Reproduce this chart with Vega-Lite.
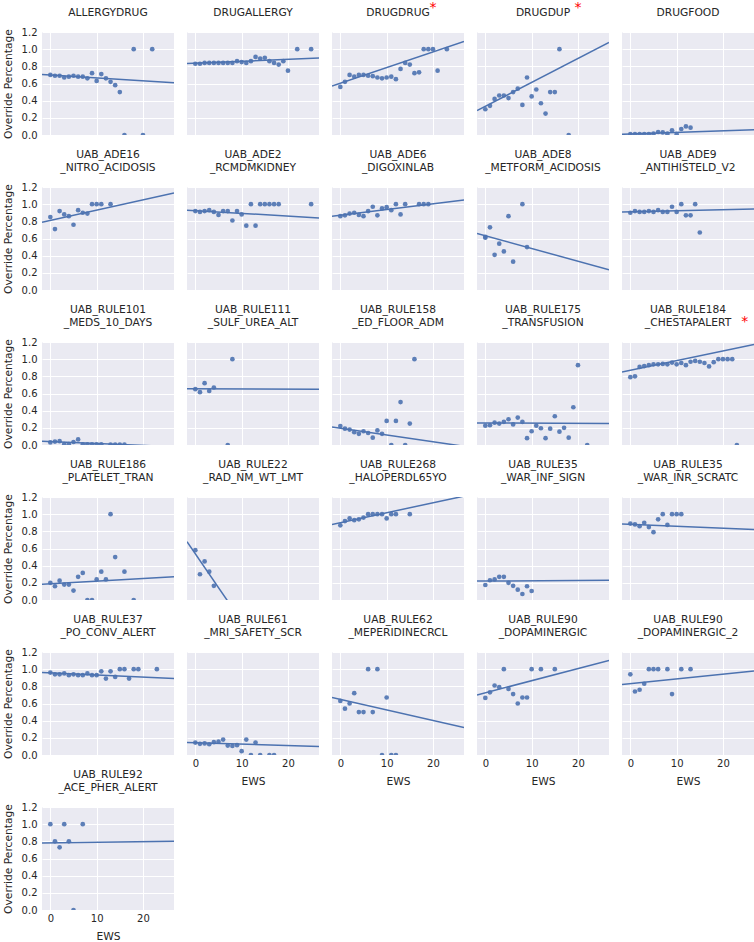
{
  "$schema": "https://vega.github.io/schema/vega-lite/v6.json",
  "padding": {"left": 2, "top": -1, "right": 0, "bottom": 0},
  "data": {"values": [
    {"panel":"ALLERGYDRUG","kind":"pt","ews":0,"pct":0.70},{"panel":"ALLERGYDRUG","kind":"pt","ews":1,"pct":0.69},{"panel":"ALLERGYDRUG","kind":"pt","ews":2,"pct":0.69},{"panel":"ALLERGYDRUG","kind":"pt","ews":3,"pct":0.67},{"panel":"ALLERGYDRUG","kind":"pt","ews":4,"pct":0.68},{"panel":"ALLERGYDRUG","kind":"pt","ews":5,"pct":0.69},{"panel":"ALLERGYDRUG","kind":"pt","ews":6,"pct":0.68},{"panel":"ALLERGYDRUG","kind":"pt","ews":7,"pct":0.68},{"panel":"ALLERGYDRUG","kind":"pt","ews":8,"pct":0.66},{"panel":"ALLERGYDRUG","kind":"pt","ews":9,"pct":0.72},{"panel":"ALLERGYDRUG","kind":"pt","ews":10,"pct":0.63},{"panel":"ALLERGYDRUG","kind":"pt","ews":11,"pct":0.71},{"panel":"ALLERGYDRUG","kind":"pt","ews":12,"pct":0.66},{"panel":"ALLERGYDRUG","kind":"pt","ews":13,"pct":0.62},{"panel":"ALLERGYDRUG","kind":"pt","ews":14,"pct":0.58},{"panel":"ALLERGYDRUG","kind":"pt","ews":15,"pct":0.50},{"panel":"ALLERGYDRUG","kind":"pt","ews":16,"pct":0},{"panel":"ALLERGYDRUG","kind":"pt","ews":18,"pct":1},{"panel":"ALLERGYDRUG","kind":"pt","ews":20,"pct":0},{"panel":"ALLERGYDRUG","kind":"pt","ews":22,"pct":1},
    {"panel":"ALLERGYDRUG","kind":"fit","ews":-1.8,"pct":0.705},{"panel":"ALLERGYDRUG","kind":"fit","ews":26.7,"pct":0.61},

    {"panel":"DRUGALLERGY","kind":"pt","ews":0,"pct":0.83},{"panel":"DRUGALLERGY","kind":"pt","ews":1,"pct":0.83},{"panel":"DRUGALLERGY","kind":"pt","ews":2,"pct":0.84},{"panel":"DRUGALLERGY","kind":"pt","ews":3,"pct":0.84},{"panel":"DRUGALLERGY","kind":"pt","ews":4,"pct":0.84},{"panel":"DRUGALLERGY","kind":"pt","ews":5,"pct":0.84},{"panel":"DRUGALLERGY","kind":"pt","ews":6,"pct":0.84},{"panel":"DRUGALLERGY","kind":"pt","ews":7,"pct":0.84},{"panel":"DRUGALLERGY","kind":"pt","ews":8,"pct":0.84},{"panel":"DRUGALLERGY","kind":"pt","ews":9,"pct":0.86},{"panel":"DRUGALLERGY","kind":"pt","ews":10,"pct":0.85},{"panel":"DRUGALLERGY","kind":"pt","ews":11,"pct":0.84},{"panel":"DRUGALLERGY","kind":"pt","ews":12,"pct":0.86},{"panel":"DRUGALLERGY","kind":"pt","ews":13,"pct":0.91},{"panel":"DRUGALLERGY","kind":"pt","ews":14,"pct":0.89},{"panel":"DRUGALLERGY","kind":"pt","ews":15,"pct":0.90},{"panel":"DRUGALLERGY","kind":"pt","ews":16,"pct":0.86},{"panel":"DRUGALLERGY","kind":"pt","ews":17,"pct":0.84},{"panel":"DRUGALLERGY","kind":"pt","ews":18,"pct":0.82},{"panel":"DRUGALLERGY","kind":"pt","ews":19,"pct":0.86},{"panel":"DRUGALLERGY","kind":"pt","ews":20,"pct":0.75},{"panel":"DRUGALLERGY","kind":"pt","ews":22,"pct":1},{"panel":"DRUGALLERGY","kind":"pt","ews":25,"pct":1},
    {"panel":"DRUGALLERGY","kind":"fit","ews":-1.8,"pct":0.834},{"panel":"DRUGALLERGY","kind":"fit","ews":26.7,"pct":0.896},

    {"panel":"DRUGDRUG","kind":"pt","ews":0,"pct":0.56},{"panel":"DRUGDRUG","kind":"pt","ews":1,"pct":0.62},{"panel":"DRUGDRUG","kind":"pt","ews":2,"pct":0.70},{"panel":"DRUGDRUG","kind":"pt","ews":3,"pct":0.68},{"panel":"DRUGDRUG","kind":"pt","ews":4,"pct":0.70},{"panel":"DRUGDRUG","kind":"pt","ews":5,"pct":0.70},{"panel":"DRUGDRUG","kind":"pt","ews":6,"pct":0.69},{"panel":"DRUGDRUG","kind":"pt","ews":7,"pct":0.685},{"panel":"DRUGDRUG","kind":"pt","ews":8,"pct":0.67},{"panel":"DRUGDRUG","kind":"pt","ews":9,"pct":0.66},{"panel":"DRUGDRUG","kind":"pt","ews":10,"pct":0.67},{"panel":"DRUGDRUG","kind":"pt","ews":11,"pct":0.68},{"panel":"DRUGDRUG","kind":"pt","ews":12,"pct":0.65},{"panel":"DRUGDRUG","kind":"pt","ews":13,"pct":0.77},{"panel":"DRUGDRUG","kind":"pt","ews":14,"pct":0.84},{"panel":"DRUGDRUG","kind":"pt","ews":15,"pct":0.82},{"panel":"DRUGDRUG","kind":"pt","ews":16,"pct":0.72},{"panel":"DRUGDRUG","kind":"pt","ews":17,"pct":0.73},{"panel":"DRUGDRUG","kind":"pt","ews":18,"pct":1},{"panel":"DRUGDRUG","kind":"pt","ews":19,"pct":1},{"panel":"DRUGDRUG","kind":"pt","ews":20,"pct":1},{"panel":"DRUGDRUG","kind":"pt","ews":21,"pct":0.75},{"panel":"DRUGDRUG","kind":"pt","ews":23,"pct":1},
    {"panel":"DRUGDRUG","kind":"fit","ews":-1.8,"pct":0.57},{"panel":"DRUGDRUG","kind":"fit","ews":26.7,"pct":1.09},
    {"panel":"DRUGDRUG","kind":"star"},

    {"panel":"DRUGDUP","kind":"pt","ews":0,"pct":0.30},{"panel":"DRUGDUP","kind":"pt","ews":1,"pct":0.34},{"panel":"DRUGDUP","kind":"pt","ews":2,"pct":0.42},{"panel":"DRUGDUP","kind":"pt","ews":3,"pct":0.46},{"panel":"DRUGDUP","kind":"pt","ews":4,"pct":0.46},{"panel":"DRUGDUP","kind":"pt","ews":5,"pct":0.43},{"panel":"DRUGDUP","kind":"pt","ews":6,"pct":0.50},{"panel":"DRUGDUP","kind":"pt","ews":7,"pct":0.54},{"panel":"DRUGDUP","kind":"pt","ews":8,"pct":0.35},{"panel":"DRUGDUP","kind":"pt","ews":9,"pct":0.67},{"panel":"DRUGDUP","kind":"pt","ews":10,"pct":0.45},{"panel":"DRUGDUP","kind":"pt","ews":11,"pct":0.53},{"panel":"DRUGDUP","kind":"pt","ews":12,"pct":0.37},{"panel":"DRUGDUP","kind":"pt","ews":13,"pct":0.25},{"panel":"DRUGDUP","kind":"pt","ews":14,"pct":0.50},{"panel":"DRUGDUP","kind":"pt","ews":15,"pct":0.50},{"panel":"DRUGDUP","kind":"pt","ews":16,"pct":1},{"panel":"DRUGDUP","kind":"pt","ews":18,"pct":0},
    {"panel":"DRUGDUP","kind":"fit","ews":-1.8,"pct":0.284},{"panel":"DRUGDUP","kind":"fit","ews":26.7,"pct":1.08},
    {"panel":"DRUGDUP","kind":"star"},

    {"panel":"DRUGFOOD","kind":"pt","ews":0,"pct":0.01},{"panel":"DRUGFOOD","kind":"pt","ews":1,"pct":0.01},{"panel":"DRUGFOOD","kind":"pt","ews":2,"pct":0.01},{"panel":"DRUGFOOD","kind":"pt","ews":3,"pct":0.01},{"panel":"DRUGFOOD","kind":"pt","ews":4,"pct":0.01},{"panel":"DRUGFOOD","kind":"pt","ews":5,"pct":0.015},{"panel":"DRUGFOOD","kind":"pt","ews":6,"pct":0.035},{"panel":"DRUGFOOD","kind":"pt","ews":7,"pct":0.03},{"panel":"DRUGFOOD","kind":"pt","ews":8,"pct":0.015},{"panel":"DRUGFOOD","kind":"pt","ews":9,"pct":0.055},{"panel":"DRUGFOOD","kind":"pt","ews":10,"pct":0.01},{"panel":"DRUGFOOD","kind":"pt","ews":11,"pct":0.07},{"panel":"DRUGFOOD","kind":"pt","ews":12,"pct":0.10},{"panel":"DRUGFOOD","kind":"pt","ews":13,"pct":0.085},
    {"panel":"DRUGFOOD","kind":"fit","ews":-1.8,"pct":0.008},{"panel":"DRUGFOOD","kind":"fit","ews":26.7,"pct":0.062},

    {"panel":"UAB_ADE16_NITRO_ACIDOSIS","kind":"pt","ews":0,"pct":0.85},{"panel":"UAB_ADE16_NITRO_ACIDOSIS","kind":"pt","ews":1,"pct":0.71},{"panel":"UAB_ADE16_NITRO_ACIDOSIS","kind":"pt","ews":2,"pct":0.92},{"panel":"UAB_ADE16_NITRO_ACIDOSIS","kind":"pt","ews":3,"pct":0.88},{"panel":"UAB_ADE16_NITRO_ACIDOSIS","kind":"pt","ews":4,"pct":0.86},{"panel":"UAB_ADE16_NITRO_ACIDOSIS","kind":"pt","ews":5,"pct":0.76},{"panel":"UAB_ADE16_NITRO_ACIDOSIS","kind":"pt","ews":6,"pct":0.93},{"panel":"UAB_ADE16_NITRO_ACIDOSIS","kind":"pt","ews":7,"pct":0.90},{"panel":"UAB_ADE16_NITRO_ACIDOSIS","kind":"pt","ews":8,"pct":0.89},{"panel":"UAB_ADE16_NITRO_ACIDOSIS","kind":"pt","ews":9,"pct":1},{"panel":"UAB_ADE16_NITRO_ACIDOSIS","kind":"pt","ews":10,"pct":1},{"panel":"UAB_ADE16_NITRO_ACIDOSIS","kind":"pt","ews":11,"pct":1},{"panel":"UAB_ADE16_NITRO_ACIDOSIS","kind":"pt","ews":13,"pct":1},
    {"panel":"UAB_ADE16_NITRO_ACIDOSIS","kind":"fit","ews":-1.8,"pct":0.79},{"panel":"UAB_ADE16_NITRO_ACIDOSIS","kind":"fit","ews":26.7,"pct":1.13},

    {"panel":"UAB_ADE2_RCMDMKIDNEY","kind":"pt","ews":0,"pct":0.92},{"panel":"UAB_ADE2_RCMDMKIDNEY","kind":"pt","ews":1,"pct":0.91},{"panel":"UAB_ADE2_RCMDMKIDNEY","kind":"pt","ews":2,"pct":0.92},{"panel":"UAB_ADE2_RCMDMKIDNEY","kind":"pt","ews":3,"pct":0.93},{"panel":"UAB_ADE2_RCMDMKIDNEY","kind":"pt","ews":4,"pct":0.91},{"panel":"UAB_ADE2_RCMDMKIDNEY","kind":"pt","ews":5,"pct":0.875},{"panel":"UAB_ADE2_RCMDMKIDNEY","kind":"pt","ews":6,"pct":0.92},{"panel":"UAB_ADE2_RCMDMKIDNEY","kind":"pt","ews":7,"pct":0.92},{"panel":"UAB_ADE2_RCMDMKIDNEY","kind":"pt","ews":8,"pct":0.81},{"panel":"UAB_ADE2_RCMDMKIDNEY","kind":"pt","ews":9,"pct":0.92},{"panel":"UAB_ADE2_RCMDMKIDNEY","kind":"pt","ews":10,"pct":0.88},{"panel":"UAB_ADE2_RCMDMKIDNEY","kind":"pt","ews":11,"pct":0.75},{"panel":"UAB_ADE2_RCMDMKIDNEY","kind":"pt","ews":12,"pct":1},{"panel":"UAB_ADE2_RCMDMKIDNEY","kind":"pt","ews":13,"pct":0.75},{"panel":"UAB_ADE2_RCMDMKIDNEY","kind":"pt","ews":14,"pct":1},{"panel":"UAB_ADE2_RCMDMKIDNEY","kind":"pt","ews":15,"pct":1},{"panel":"UAB_ADE2_RCMDMKIDNEY","kind":"pt","ews":16,"pct":1},{"panel":"UAB_ADE2_RCMDMKIDNEY","kind":"pt","ews":17,"pct":1},{"panel":"UAB_ADE2_RCMDMKIDNEY","kind":"pt","ews":18,"pct":1},{"panel":"UAB_ADE2_RCMDMKIDNEY","kind":"pt","ews":25,"pct":1},
    {"panel":"UAB_ADE2_RCMDMKIDNEY","kind":"fit","ews":-1.8,"pct":0.93},{"panel":"UAB_ADE2_RCMDMKIDNEY","kind":"fit","ews":26.7,"pct":0.84},

    {"panel":"UAB_ADE6_DIGOXINLAB","kind":"pt","ews":0,"pct":0.86},{"panel":"UAB_ADE6_DIGOXINLAB","kind":"pt","ews":1,"pct":0.87},{"panel":"UAB_ADE6_DIGOXINLAB","kind":"pt","ews":2,"pct":0.89},{"panel":"UAB_ADE6_DIGOXINLAB","kind":"pt","ews":3,"pct":0.90},{"panel":"UAB_ADE6_DIGOXINLAB","kind":"pt","ews":4,"pct":0.875},{"panel":"UAB_ADE6_DIGOXINLAB","kind":"pt","ews":5,"pct":0.86},{"panel":"UAB_ADE6_DIGOXINLAB","kind":"pt","ews":6,"pct":0.92},{"panel":"UAB_ADE6_DIGOXINLAB","kind":"pt","ews":7,"pct":0.97},{"panel":"UAB_ADE6_DIGOXINLAB","kind":"pt","ews":8,"pct":0.87},{"panel":"UAB_ADE6_DIGOXINLAB","kind":"pt","ews":9,"pct":0.95},{"panel":"UAB_ADE6_DIGOXINLAB","kind":"pt","ews":10,"pct":0.965},{"panel":"UAB_ADE6_DIGOXINLAB","kind":"pt","ews":11,"pct":0.93},{"panel":"UAB_ADE6_DIGOXINLAB","kind":"pt","ews":12,"pct":1},{"panel":"UAB_ADE6_DIGOXINLAB","kind":"pt","ews":13,"pct":0.88},{"panel":"UAB_ADE6_DIGOXINLAB","kind":"pt","ews":14,"pct":1},{"panel":"UAB_ADE6_DIGOXINLAB","kind":"pt","ews":17,"pct":1},{"panel":"UAB_ADE6_DIGOXINLAB","kind":"pt","ews":18,"pct":1},{"panel":"UAB_ADE6_DIGOXINLAB","kind":"pt","ews":19,"pct":1},
    {"panel":"UAB_ADE6_DIGOXINLAB","kind":"fit","ews":-1.8,"pct":0.86},{"panel":"UAB_ADE6_DIGOXINLAB","kind":"fit","ews":26.7,"pct":1.05},

    {"panel":"UAB_ADE8_METFORM_ACIDOSIS","kind":"pt","ews":0,"pct":0.61},{"panel":"UAB_ADE8_METFORM_ACIDOSIS","kind":"pt","ews":0,"pct":0.62},{"panel":"UAB_ADE8_METFORM_ACIDOSIS","kind":"pt","ews":1,"pct":0.73},{"panel":"UAB_ADE8_METFORM_ACIDOSIS","kind":"pt","ews":2,"pct":0.41},{"panel":"UAB_ADE8_METFORM_ACIDOSIS","kind":"pt","ews":3,"pct":0.54},{"panel":"UAB_ADE8_METFORM_ACIDOSIS","kind":"pt","ews":4,"pct":0.45},{"panel":"UAB_ADE8_METFORM_ACIDOSIS","kind":"pt","ews":5,"pct":0.86},{"panel":"UAB_ADE8_METFORM_ACIDOSIS","kind":"pt","ews":6,"pct":0.33},{"panel":"UAB_ADE8_METFORM_ACIDOSIS","kind":"pt","ews":8,"pct":1},{"panel":"UAB_ADE8_METFORM_ACIDOSIS","kind":"pt","ews":9,"pct":0.50},
    {"panel":"UAB_ADE8_METFORM_ACIDOSIS","kind":"fit","ews":-1.8,"pct":0.66},{"panel":"UAB_ADE8_METFORM_ACIDOSIS","kind":"fit","ews":26.7,"pct":0.235},

    {"panel":"UAB_ADE9_ANTIHISTELD_V2","kind":"pt","ews":0,"pct":0.90},{"panel":"UAB_ADE9_ANTIHISTELD_V2","kind":"pt","ews":1,"pct":0.92},{"panel":"UAB_ADE9_ANTIHISTELD_V2","kind":"pt","ews":2,"pct":0.91},{"panel":"UAB_ADE9_ANTIHISTELD_V2","kind":"pt","ews":3,"pct":0.91},{"panel":"UAB_ADE9_ANTIHISTELD_V2","kind":"pt","ews":4,"pct":0.92},{"panel":"UAB_ADE9_ANTIHISTELD_V2","kind":"pt","ews":5,"pct":0.91},{"panel":"UAB_ADE9_ANTIHISTELD_V2","kind":"pt","ews":6,"pct":0.93},{"panel":"UAB_ADE9_ANTIHISTELD_V2","kind":"pt","ews":7,"pct":0.91},{"panel":"UAB_ADE9_ANTIHISTELD_V2","kind":"pt","ews":8,"pct":0.91},{"panel":"UAB_ADE9_ANTIHISTELD_V2","kind":"pt","ews":9,"pct":0.97},{"panel":"UAB_ADE9_ANTIHISTELD_V2","kind":"pt","ews":10,"pct":0.91},{"panel":"UAB_ADE9_ANTIHISTELD_V2","kind":"pt","ews":11,"pct":1},{"panel":"UAB_ADE9_ANTIHISTELD_V2","kind":"pt","ews":12,"pct":0.87},{"panel":"UAB_ADE9_ANTIHISTELD_V2","kind":"pt","ews":13,"pct":0.87},{"panel":"UAB_ADE9_ANTIHISTELD_V2","kind":"pt","ews":14,"pct":1},{"panel":"UAB_ADE9_ANTIHISTELD_V2","kind":"pt","ews":15,"pct":0.67},
    {"panel":"UAB_ADE9_ANTIHISTELD_V2","kind":"fit","ews":-1.8,"pct":0.91},{"panel":"UAB_ADE9_ANTIHISTELD_V2","kind":"fit","ews":26.7,"pct":0.945},

    {"panel":"UAB_RULE101_MEDS_10_DAYS","kind":"pt","ews":0,"pct":0.03},{"panel":"UAB_RULE101_MEDS_10_DAYS","kind":"pt","ews":1,"pct":0.04},{"panel":"UAB_RULE101_MEDS_10_DAYS","kind":"pt","ews":2,"pct":0.045},{"panel":"UAB_RULE101_MEDS_10_DAYS","kind":"pt","ews":3,"pct":0.01},{"panel":"UAB_RULE101_MEDS_10_DAYS","kind":"pt","ews":4,"pct":0.01},{"panel":"UAB_RULE101_MEDS_10_DAYS","kind":"pt","ews":5,"pct":0.035},{"panel":"UAB_RULE101_MEDS_10_DAYS","kind":"pt","ews":6,"pct":0.065},{"panel":"UAB_RULE101_MEDS_10_DAYS","kind":"pt","ews":7,"pct":0.008},{"panel":"UAB_RULE101_MEDS_10_DAYS","kind":"pt","ews":8,"pct":0.008},{"panel":"UAB_RULE101_MEDS_10_DAYS","kind":"pt","ews":9,"pct":0.008},{"panel":"UAB_RULE101_MEDS_10_DAYS","kind":"pt","ews":10,"pct":0.008},{"panel":"UAB_RULE101_MEDS_10_DAYS","kind":"pt","ews":11,"pct":0.008},{"panel":"UAB_RULE101_MEDS_10_DAYS","kind":"pt","ews":13,"pct":0.004},{"panel":"UAB_RULE101_MEDS_10_DAYS","kind":"pt","ews":14,"pct":0.004},{"panel":"UAB_RULE101_MEDS_10_DAYS","kind":"pt","ews":15,"pct":0.004},{"panel":"UAB_RULE101_MEDS_10_DAYS","kind":"pt","ews":16,"pct":0.004},
    {"panel":"UAB_RULE101_MEDS_10_DAYS","kind":"fit","ews":-1.8,"pct":0.045},{"panel":"UAB_RULE101_MEDS_10_DAYS","kind":"fit","ews":26.7,"pct":-0.02},

    {"panel":"UAB_RULE111_SULF_UREA_ALT","kind":"pt","ews":0,"pct":0.65},{"panel":"UAB_RULE111_SULF_UREA_ALT","kind":"pt","ews":1,"pct":0.615},{"panel":"UAB_RULE111_SULF_UREA_ALT","kind":"pt","ews":2,"pct":0.72},{"panel":"UAB_RULE111_SULF_UREA_ALT","kind":"pt","ews":3,"pct":0.63},{"panel":"UAB_RULE111_SULF_UREA_ALT","kind":"pt","ews":4,"pct":0.67},{"panel":"UAB_RULE111_SULF_UREA_ALT","kind":"pt","ews":7,"pct":0},{"panel":"UAB_RULE111_SULF_UREA_ALT","kind":"pt","ews":8,"pct":1},
    {"panel":"UAB_RULE111_SULF_UREA_ALT","kind":"fit","ews":-1.8,"pct":0.655},{"panel":"UAB_RULE111_SULF_UREA_ALT","kind":"fit","ews":26.7,"pct":0.65},

    {"panel":"UAB_RULE158_ED_FLOOR_ADM","kind":"pt","ews":0,"pct":0.22},{"panel":"UAB_RULE158_ED_FLOOR_ADM","kind":"pt","ews":1,"pct":0.19},{"panel":"UAB_RULE158_ED_FLOOR_ADM","kind":"pt","ews":2,"pct":0.18},{"panel":"UAB_RULE158_ED_FLOOR_ADM","kind":"pt","ews":3,"pct":0.15},{"panel":"UAB_RULE158_ED_FLOOR_ADM","kind":"pt","ews":4,"pct":0.13},{"panel":"UAB_RULE158_ED_FLOOR_ADM","kind":"pt","ews":5,"pct":0.16},{"panel":"UAB_RULE158_ED_FLOOR_ADM","kind":"pt","ews":6,"pct":0.14},{"panel":"UAB_RULE158_ED_FLOOR_ADM","kind":"pt","ews":7,"pct":0.085},{"panel":"UAB_RULE158_ED_FLOOR_ADM","kind":"pt","ews":8,"pct":0.17},{"panel":"UAB_RULE158_ED_FLOOR_ADM","kind":"pt","ews":9,"pct":0.13},{"panel":"UAB_RULE158_ED_FLOOR_ADM","kind":"pt","ews":10,"pct":0.28},{"panel":"UAB_RULE158_ED_FLOOR_ADM","kind":"pt","ews":11,"pct":0},{"panel":"UAB_RULE158_ED_FLOOR_ADM","kind":"pt","ews":12,"pct":0.28},{"panel":"UAB_RULE158_ED_FLOOR_ADM","kind":"pt","ews":13,"pct":0.50},{"panel":"UAB_RULE158_ED_FLOOR_ADM","kind":"pt","ews":14,"pct":0},{"panel":"UAB_RULE158_ED_FLOOR_ADM","kind":"pt","ews":15,"pct":0.25},{"panel":"UAB_RULE158_ED_FLOOR_ADM","kind":"pt","ews":16,"pct":1},
    {"panel":"UAB_RULE158_ED_FLOOR_ADM","kind":"fit","ews":-1.8,"pct":0.21},{"panel":"UAB_RULE158_ED_FLOOR_ADM","kind":"fit","ews":26.7,"pct":-0.015},

    {"panel":"UAB_RULE175_TRANSFUSION","kind":"pt","ews":0,"pct":0.225},{"panel":"UAB_RULE175_TRANSFUSION","kind":"pt","ews":1,"pct":0.23},{"panel":"UAB_RULE175_TRANSFUSION","kind":"pt","ews":2,"pct":0.26},{"panel":"UAB_RULE175_TRANSFUSION","kind":"pt","ews":3,"pct":0.25},{"panel":"UAB_RULE175_TRANSFUSION","kind":"pt","ews":4,"pct":0.27},{"panel":"UAB_RULE175_TRANSFUSION","kind":"pt","ews":5,"pct":0.30},{"panel":"UAB_RULE175_TRANSFUSION","kind":"pt","ews":6,"pct":0.24},{"panel":"UAB_RULE175_TRANSFUSION","kind":"pt","ews":7,"pct":0.32},{"panel":"UAB_RULE175_TRANSFUSION","kind":"pt","ews":8,"pct":0.27},{"panel":"UAB_RULE175_TRANSFUSION","kind":"pt","ews":9,"pct":0.08},{"panel":"UAB_RULE175_TRANSFUSION","kind":"pt","ews":10,"pct":0.16},{"panel":"UAB_RULE175_TRANSFUSION","kind":"pt","ews":11,"pct":0.225},{"panel":"UAB_RULE175_TRANSFUSION","kind":"pt","ews":12,"pct":0.195},{"panel":"UAB_RULE175_TRANSFUSION","kind":"pt","ews":13,"pct":0.08},{"panel":"UAB_RULE175_TRANSFUSION","kind":"pt","ews":14,"pct":0.19},{"panel":"UAB_RULE175_TRANSFUSION","kind":"pt","ews":15,"pct":0.335},{"panel":"UAB_RULE175_TRANSFUSION","kind":"pt","ews":16,"pct":0.155},{"panel":"UAB_RULE175_TRANSFUSION","kind":"pt","ews":17,"pct":0.20},{"panel":"UAB_RULE175_TRANSFUSION","kind":"pt","ews":18,"pct":0.085},{"panel":"UAB_RULE175_TRANSFUSION","kind":"pt","ews":19,"pct":0.44},{"panel":"UAB_RULE175_TRANSFUSION","kind":"pt","ews":20,"pct":0.93},{"panel":"UAB_RULE175_TRANSFUSION","kind":"pt","ews":22,"pct":0},
    {"panel":"UAB_RULE175_TRANSFUSION","kind":"fit","ews":-1.8,"pct":0.257},{"panel":"UAB_RULE175_TRANSFUSION","kind":"fit","ews":26.7,"pct":0.25},

    {"panel":"UAB_RULE184_CHESTAPALERT","kind":"pt","ews":0,"pct":0.79},{"panel":"UAB_RULE184_CHESTAPALERT","kind":"pt","ews":1,"pct":0.80},{"panel":"UAB_RULE184_CHESTAPALERT","kind":"pt","ews":2,"pct":0.91},{"panel":"UAB_RULE184_CHESTAPALERT","kind":"pt","ews":3,"pct":0.92},{"panel":"UAB_RULE184_CHESTAPALERT","kind":"pt","ews":4,"pct":0.93},{"panel":"UAB_RULE184_CHESTAPALERT","kind":"pt","ews":5,"pct":0.94},{"panel":"UAB_RULE184_CHESTAPALERT","kind":"pt","ews":6,"pct":0.94},{"panel":"UAB_RULE184_CHESTAPALERT","kind":"pt","ews":7,"pct":0.945},{"panel":"UAB_RULE184_CHESTAPALERT","kind":"pt","ews":8,"pct":0.94},{"panel":"UAB_RULE184_CHESTAPALERT","kind":"pt","ews":9,"pct":0.96},{"panel":"UAB_RULE184_CHESTAPALERT","kind":"pt","ews":10,"pct":0.94},{"panel":"UAB_RULE184_CHESTAPALERT","kind":"pt","ews":11,"pct":0.955},{"panel":"UAB_RULE184_CHESTAPALERT","kind":"pt","ews":12,"pct":0.93},{"panel":"UAB_RULE184_CHESTAPALERT","kind":"pt","ews":13,"pct":0.97},{"panel":"UAB_RULE184_CHESTAPALERT","kind":"pt","ews":14,"pct":0.98},{"panel":"UAB_RULE184_CHESTAPALERT","kind":"pt","ews":15,"pct":0.97},{"panel":"UAB_RULE184_CHESTAPALERT","kind":"pt","ews":16,"pct":0.955},{"panel":"UAB_RULE184_CHESTAPALERT","kind":"pt","ews":17,"pct":0.915},{"panel":"UAB_RULE184_CHESTAPALERT","kind":"pt","ews":18,"pct":0.965},{"panel":"UAB_RULE184_CHESTAPALERT","kind":"pt","ews":19,"pct":1},{"panel":"UAB_RULE184_CHESTAPALERT","kind":"pt","ews":20,"pct":1},{"panel":"UAB_RULE184_CHESTAPALERT","kind":"pt","ews":21,"pct":1},{"panel":"UAB_RULE184_CHESTAPALERT","kind":"pt","ews":22,"pct":1},{"panel":"UAB_RULE184_CHESTAPALERT","kind":"pt","ews":23,"pct":0},
    {"panel":"UAB_RULE184_CHESTAPALERT","kind":"fit","ews":-1.8,"pct":0.85},{"panel":"UAB_RULE184_CHESTAPALERT","kind":"fit","ews":26.7,"pct":1.17},
    {"panel":"UAB_RULE184_CHESTAPALERT","kind":"star2"},

    {"panel":"UAB_RULE186_PLATELET_TRAN","kind":"pt","ews":0,"pct":0.20},{"panel":"UAB_RULE186_PLATELET_TRAN","kind":"pt","ews":1,"pct":0.16},{"panel":"UAB_RULE186_PLATELET_TRAN","kind":"pt","ews":2,"pct":0.225},{"panel":"UAB_RULE186_PLATELET_TRAN","kind":"pt","ews":3,"pct":0.18},{"panel":"UAB_RULE186_PLATELET_TRAN","kind":"pt","ews":4,"pct":0.18},{"panel":"UAB_RULE186_PLATELET_TRAN","kind":"pt","ews":5,"pct":0.11},{"panel":"UAB_RULE186_PLATELET_TRAN","kind":"pt","ews":6,"pct":0.27},{"panel":"UAB_RULE186_PLATELET_TRAN","kind":"pt","ews":7,"pct":0.315},{"panel":"UAB_RULE186_PLATELET_TRAN","kind":"pt","ews":8,"pct":0},{"panel":"UAB_RULE186_PLATELET_TRAN","kind":"pt","ews":9,"pct":0},{"panel":"UAB_RULE186_PLATELET_TRAN","kind":"pt","ews":10,"pct":0.24},{"panel":"UAB_RULE186_PLATELET_TRAN","kind":"pt","ews":11,"pct":0.33},{"panel":"UAB_RULE186_PLATELET_TRAN","kind":"pt","ews":12,"pct":0.24},{"panel":"UAB_RULE186_PLATELET_TRAN","kind":"pt","ews":13,"pct":1},{"panel":"UAB_RULE186_PLATELET_TRAN","kind":"pt","ews":14,"pct":0.50},{"panel":"UAB_RULE186_PLATELET_TRAN","kind":"pt","ews":16,"pct":0.33},{"panel":"UAB_RULE186_PLATELET_TRAN","kind":"pt","ews":18,"pct":0},
    {"panel":"UAB_RULE186_PLATELET_TRAN","kind":"fit","ews":-1.8,"pct":0.183},{"panel":"UAB_RULE186_PLATELET_TRAN","kind":"fit","ews":26.7,"pct":0.27},

    {"panel":"UAB_RULE22_RAD_NM_WT_LMT","kind":"pt","ews":0,"pct":0.58},{"panel":"UAB_RULE22_RAD_NM_WT_LMT","kind":"pt","ews":1,"pct":0.30},{"panel":"UAB_RULE22_RAD_NM_WT_LMT","kind":"pt","ews":2,"pct":0.45},{"panel":"UAB_RULE22_RAD_NM_WT_LMT","kind":"pt","ews":3,"pct":0.33},{"panel":"UAB_RULE22_RAD_NM_WT_LMT","kind":"pt","ews":4,"pct":0.165},
    {"panel":"UAB_RULE22_RAD_NM_WT_LMT","kind":"fit","ews":-1.8,"pct":0.68},{"panel":"UAB_RULE22_RAD_NM_WT_LMT","kind":"fit","ews":10,"pct":-0.25},

    {"panel":"UAB_RULE268_HALOPERDL65YO","kind":"pt","ews":0,"pct":0.87},{"panel":"UAB_RULE268_HALOPERDL65YO","kind":"pt","ews":1,"pct":0.92},{"panel":"UAB_RULE268_HALOPERDL65YO","kind":"pt","ews":2,"pct":0.95},{"panel":"UAB_RULE268_HALOPERDL65YO","kind":"pt","ews":3,"pct":0.93},{"panel":"UAB_RULE268_HALOPERDL65YO","kind":"pt","ews":4,"pct":0.94},{"panel":"UAB_RULE268_HALOPERDL65YO","kind":"pt","ews":5,"pct":0.96},{"panel":"UAB_RULE268_HALOPERDL65YO","kind":"pt","ews":6,"pct":1},{"panel":"UAB_RULE268_HALOPERDL65YO","kind":"pt","ews":7,"pct":1},{"panel":"UAB_RULE268_HALOPERDL65YO","kind":"pt","ews":8,"pct":1},{"panel":"UAB_RULE268_HALOPERDL65YO","kind":"pt","ews":9,"pct":1},{"panel":"UAB_RULE268_HALOPERDL65YO","kind":"pt","ews":10,"pct":0.95},{"panel":"UAB_RULE268_HALOPERDL65YO","kind":"pt","ews":11,"pct":1},{"panel":"UAB_RULE268_HALOPERDL65YO","kind":"pt","ews":12,"pct":1},{"panel":"UAB_RULE268_HALOPERDL65YO","kind":"pt","ews":15,"pct":1},
    {"panel":"UAB_RULE268_HALOPERDL65YO","kind":"fit","ews":-1.8,"pct":0.88},{"panel":"UAB_RULE268_HALOPERDL65YO","kind":"fit","ews":26.7,"pct":1.21},

    {"panel":"UAB_RULE35_WAR_INF_SIGN","kind":"pt","ews":0,"pct":0.175},{"panel":"UAB_RULE35_WAR_INF_SIGN","kind":"pt","ews":1,"pct":0.23},{"panel":"UAB_RULE35_WAR_INF_SIGN","kind":"pt","ews":2,"pct":0.24},{"panel":"UAB_RULE35_WAR_INF_SIGN","kind":"pt","ews":3,"pct":0.27},{"panel":"UAB_RULE35_WAR_INF_SIGN","kind":"pt","ews":4,"pct":0.27},{"panel":"UAB_RULE35_WAR_INF_SIGN","kind":"pt","ews":5,"pct":0.20},{"panel":"UAB_RULE35_WAR_INF_SIGN","kind":"pt","ews":6,"pct":0.165},{"panel":"UAB_RULE35_WAR_INF_SIGN","kind":"pt","ews":7,"pct":0.12},{"panel":"UAB_RULE35_WAR_INF_SIGN","kind":"pt","ews":8,"pct":0.07},{"panel":"UAB_RULE35_WAR_INF_SIGN","kind":"pt","ews":9,"pct":0.16},{"panel":"UAB_RULE35_WAR_INF_SIGN","kind":"pt","ews":10,"pct":0.105},
    {"panel":"UAB_RULE35_WAR_INF_SIGN","kind":"fit","ews":-1.8,"pct":0.22},{"panel":"UAB_RULE35_WAR_INF_SIGN","kind":"fit","ews":26.7,"pct":0.23},

    {"panel":"UAB_RULE35_WAR_INR_SCRATC","kind":"pt","ews":0,"pct":0.89},{"panel":"UAB_RULE35_WAR_INR_SCRATC","kind":"pt","ews":1,"pct":0.88},{"panel":"UAB_RULE35_WAR_INR_SCRATC","kind":"pt","ews":2,"pct":0.86},{"panel":"UAB_RULE35_WAR_INR_SCRATC","kind":"pt","ews":3,"pct":0.90},{"panel":"UAB_RULE35_WAR_INR_SCRATC","kind":"pt","ews":4,"pct":0.85},{"panel":"UAB_RULE35_WAR_INR_SCRATC","kind":"pt","ews":5,"pct":0.79},{"panel":"UAB_RULE35_WAR_INR_SCRATC","kind":"pt","ews":6,"pct":0.94},{"panel":"UAB_RULE35_WAR_INR_SCRATC","kind":"pt","ews":7,"pct":1},{"panel":"UAB_RULE35_WAR_INR_SCRATC","kind":"pt","ews":8,"pct":0.875},{"panel":"UAB_RULE35_WAR_INR_SCRATC","kind":"pt","ews":9,"pct":1},{"panel":"UAB_RULE35_WAR_INR_SCRATC","kind":"pt","ews":10,"pct":1},{"panel":"UAB_RULE35_WAR_INR_SCRATC","kind":"pt","ews":11,"pct":1},
    {"panel":"UAB_RULE35_WAR_INR_SCRATC","kind":"fit","ews":-1.8,"pct":0.885},{"panel":"UAB_RULE35_WAR_INR_SCRATC","kind":"fit","ews":26.7,"pct":0.82},

    {"panel":"UAB_RULE37_PO_CONV_ALERT","kind":"pt","ews":0,"pct":0.96},{"panel":"UAB_RULE37_PO_CONV_ALERT","kind":"pt","ews":1,"pct":0.94},{"panel":"UAB_RULE37_PO_CONV_ALERT","kind":"pt","ews":2,"pct":0.94},{"panel":"UAB_RULE37_PO_CONV_ALERT","kind":"pt","ews":3,"pct":0.95},{"panel":"UAB_RULE37_PO_CONV_ALERT","kind":"pt","ews":4,"pct":0.93},{"panel":"UAB_RULE37_PO_CONV_ALERT","kind":"pt","ews":5,"pct":0.94},{"panel":"UAB_RULE37_PO_CONV_ALERT","kind":"pt","ews":6,"pct":0.93},{"panel":"UAB_RULE37_PO_CONV_ALERT","kind":"pt","ews":7,"pct":0.93},{"panel":"UAB_RULE37_PO_CONV_ALERT","kind":"pt","ews":8,"pct":0.95},{"panel":"UAB_RULE37_PO_CONV_ALERT","kind":"pt","ews":9,"pct":0.93},{"panel":"UAB_RULE37_PO_CONV_ALERT","kind":"pt","ews":10,"pct":0.93},{"panel":"UAB_RULE37_PO_CONV_ALERT","kind":"pt","ews":11,"pct":0.975},{"panel":"UAB_RULE37_PO_CONV_ALERT","kind":"pt","ews":12,"pct":0.89},{"panel":"UAB_RULE37_PO_CONV_ALERT","kind":"pt","ews":13,"pct":0.975},{"panel":"UAB_RULE37_PO_CONV_ALERT","kind":"pt","ews":14,"pct":0.91},{"panel":"UAB_RULE37_PO_CONV_ALERT","kind":"pt","ews":15,"pct":1},{"panel":"UAB_RULE37_PO_CONV_ALERT","kind":"pt","ews":16,"pct":1},{"panel":"UAB_RULE37_PO_CONV_ALERT","kind":"pt","ews":17,"pct":0.89},{"panel":"UAB_RULE37_PO_CONV_ALERT","kind":"pt","ews":18,"pct":1},{"panel":"UAB_RULE37_PO_CONV_ALERT","kind":"pt","ews":19,"pct":1},{"panel":"UAB_RULE37_PO_CONV_ALERT","kind":"pt","ews":23,"pct":1},
    {"panel":"UAB_RULE37_PO_CONV_ALERT","kind":"fit","ews":-1.8,"pct":0.96},{"panel":"UAB_RULE37_PO_CONV_ALERT","kind":"fit","ews":26.7,"pct":0.89},

    {"panel":"UAB_RULE61_MRI_SAFETY_SCR","kind":"pt","ews":0,"pct":0.145},{"panel":"UAB_RULE61_MRI_SAFETY_SCR","kind":"pt","ews":1,"pct":0.13},{"panel":"UAB_RULE61_MRI_SAFETY_SCR","kind":"pt","ews":2,"pct":0.135},{"panel":"UAB_RULE61_MRI_SAFETY_SCR","kind":"pt","ews":3,"pct":0.125},{"panel":"UAB_RULE61_MRI_SAFETY_SCR","kind":"pt","ews":4,"pct":0.15},{"panel":"UAB_RULE61_MRI_SAFETY_SCR","kind":"pt","ews":5,"pct":0.155},{"panel":"UAB_RULE61_MRI_SAFETY_SCR","kind":"pt","ews":6,"pct":0.18},{"panel":"UAB_RULE61_MRI_SAFETY_SCR","kind":"pt","ews":7,"pct":0.11},{"panel":"UAB_RULE61_MRI_SAFETY_SCR","kind":"pt","ews":8,"pct":0.105},{"panel":"UAB_RULE61_MRI_SAFETY_SCR","kind":"pt","ews":9,"pct":0.115},{"panel":"UAB_RULE61_MRI_SAFETY_SCR","kind":"pt","ews":10,"pct":0.045},{"panel":"UAB_RULE61_MRI_SAFETY_SCR","kind":"pt","ews":11,"pct":0.18},{"panel":"UAB_RULE61_MRI_SAFETY_SCR","kind":"pt","ews":12,"pct":0},{"panel":"UAB_RULE61_MRI_SAFETY_SCR","kind":"pt","ews":13,"pct":0.145},{"panel":"UAB_RULE61_MRI_SAFETY_SCR","kind":"pt","ews":14,"pct":0},{"panel":"UAB_RULE61_MRI_SAFETY_SCR","kind":"pt","ews":16,"pct":0},{"panel":"UAB_RULE61_MRI_SAFETY_SCR","kind":"pt","ews":17,"pct":0},
    {"panel":"UAB_RULE61_MRI_SAFETY_SCR","kind":"fit","ews":-1.8,"pct":0.145},{"panel":"UAB_RULE61_MRI_SAFETY_SCR","kind":"fit","ews":26.7,"pct":0.10},

    {"panel":"UAB_RULE62_MEPERIDINECRCL","kind":"pt","ews":0,"pct":0.63},{"panel":"UAB_RULE62_MEPERIDINECRCL","kind":"pt","ews":1,"pct":0.54},{"panel":"UAB_RULE62_MEPERIDINECRCL","kind":"pt","ews":2,"pct":0.60},{"panel":"UAB_RULE62_MEPERIDINECRCL","kind":"pt","ews":3,"pct":0.72},{"panel":"UAB_RULE62_MEPERIDINECRCL","kind":"pt","ews":4,"pct":0.50},{"panel":"UAB_RULE62_MEPERIDINECRCL","kind":"pt","ews":5,"pct":0.50},{"panel":"UAB_RULE62_MEPERIDINECRCL","kind":"pt","ews":6,"pct":1},{"panel":"UAB_RULE62_MEPERIDINECRCL","kind":"pt","ews":7,"pct":0.50},{"panel":"UAB_RULE62_MEPERIDINECRCL","kind":"pt","ews":8,"pct":1},{"panel":"UAB_RULE62_MEPERIDINECRCL","kind":"pt","ews":9,"pct":0},{"panel":"UAB_RULE62_MEPERIDINECRCL","kind":"pt","ews":10,"pct":0.67},{"panel":"UAB_RULE62_MEPERIDINECRCL","kind":"pt","ews":11,"pct":0},{"panel":"UAB_RULE62_MEPERIDINECRCL","kind":"pt","ews":12,"pct":0},
    {"panel":"UAB_RULE62_MEPERIDINECRCL","kind":"fit","ews":-1.8,"pct":0.67},{"panel":"UAB_RULE62_MEPERIDINECRCL","kind":"fit","ews":26.7,"pct":0.32},

    {"panel":"UAB_RULE90_DOPAMINERGIC","kind":"pt","ews":0,"pct":0.665},{"panel":"UAB_RULE90_DOPAMINERGIC","kind":"pt","ews":1,"pct":0.73},{"panel":"UAB_RULE90_DOPAMINERGIC","kind":"pt","ews":2,"pct":0.81},{"panel":"UAB_RULE90_DOPAMINERGIC","kind":"pt","ews":3,"pct":0.79},{"panel":"UAB_RULE90_DOPAMINERGIC","kind":"pt","ews":4,"pct":1},{"panel":"UAB_RULE90_DOPAMINERGIC","kind":"pt","ews":5,"pct":0.77},{"panel":"UAB_RULE90_DOPAMINERGIC","kind":"pt","ews":6,"pct":0.71},{"panel":"UAB_RULE90_DOPAMINERGIC","kind":"pt","ews":7,"pct":0.60},{"panel":"UAB_RULE90_DOPAMINERGIC","kind":"pt","ews":8,"pct":0.67},{"panel":"UAB_RULE90_DOPAMINERGIC","kind":"pt","ews":9,"pct":0.67},{"panel":"UAB_RULE90_DOPAMINERGIC","kind":"pt","ews":10,"pct":1},{"panel":"UAB_RULE90_DOPAMINERGIC","kind":"pt","ews":12,"pct":1},{"panel":"UAB_RULE90_DOPAMINERGIC","kind":"pt","ews":15,"pct":1},
    {"panel":"UAB_RULE90_DOPAMINERGIC","kind":"fit","ews":-1.8,"pct":0.70},{"panel":"UAB_RULE90_DOPAMINERGIC","kind":"fit","ews":26.7,"pct":1.10},

    {"panel":"UAB_RULE90_DOPAMINERGIC_2","kind":"pt","ews":0,"pct":0.94},{"panel":"UAB_RULE90_DOPAMINERGIC_2","kind":"pt","ews":1,"pct":0.74},{"panel":"UAB_RULE90_DOPAMINERGIC_2","kind":"pt","ews":2,"pct":0.76},{"panel":"UAB_RULE90_DOPAMINERGIC_2","kind":"pt","ews":3,"pct":0.83},{"panel":"UAB_RULE90_DOPAMINERGIC_2","kind":"pt","ews":4,"pct":1},{"panel":"UAB_RULE90_DOPAMINERGIC_2","kind":"pt","ews":5,"pct":1},{"panel":"UAB_RULE90_DOPAMINERGIC_2","kind":"pt","ews":6,"pct":1},{"panel":"UAB_RULE90_DOPAMINERGIC_2","kind":"pt","ews":8,"pct":1},{"panel":"UAB_RULE90_DOPAMINERGIC_2","kind":"pt","ews":9,"pct":0.71},{"panel":"UAB_RULE90_DOPAMINERGIC_2","kind":"pt","ews":11,"pct":1},{"panel":"UAB_RULE90_DOPAMINERGIC_2","kind":"pt","ews":13,"pct":1},
    {"panel":"UAB_RULE90_DOPAMINERGIC_2","kind":"fit","ews":-1.8,"pct":0.82},{"panel":"UAB_RULE90_DOPAMINERGIC_2","kind":"fit","ews":26.7,"pct":0.98},

    {"panel":"UAB_RULE92_ACE_PHER_ALERT","kind":"pt","ews":0,"pct":1},{"panel":"UAB_RULE92_ACE_PHER_ALERT","kind":"pt","ews":1,"pct":0.80},{"panel":"UAB_RULE92_ACE_PHER_ALERT","kind":"pt","ews":2,"pct":0.73},{"panel":"UAB_RULE92_ACE_PHER_ALERT","kind":"pt","ews":3,"pct":1},{"panel":"UAB_RULE92_ACE_PHER_ALERT","kind":"pt","ews":4,"pct":0.80},{"panel":"UAB_RULE92_ACE_PHER_ALERT","kind":"pt","ews":5,"pct":0},{"panel":"UAB_RULE92_ACE_PHER_ALERT","kind":"pt","ews":7,"pct":1},
    {"panel":"UAB_RULE92_ACE_PHER_ALERT","kind":"fit","ews":-1.8,"pct":0.78},{"panel":"UAB_RULE92_ACE_PHER_ALERT","kind":"fit","ews":26.7,"pct":0.80}
  ]},
  "spacing": 13,
  "resolve": {"scale": {"x": "independent", "y": "independent"}, "axis": {"x": "independent", "y": "independent"}},
  "hconcat": [
    {
      "transform": [{"filter": {"field": "panel", "oneOf": ["ALLERGYDRUG","UAB_ADE16_NITRO_ACIDOSIS","UAB_RULE101_MEDS_10_DAYS","UAB_RULE186_PLATELET_TRAN","UAB_RULE37_PO_CONV_ALERT","UAB_RULE92_ACE_PHER_ALERT"]}}],
      "facet": {"field": "panel", "type": "nominal", "sort": ["ALLERGYDRUG","UAB_ADE16_NITRO_ACIDOSIS","UAB_RULE101_MEDS_10_DAYS","UAB_RULE186_PLATELET_TRAN","UAB_RULE37_PO_CONV_ALERT","UAB_RULE92_ACE_PHER_ALERT"], "header": {"title": null}},
      "columns": 1, "spacing": 52, "bounds": "flush",
      "spec": {"width": 132, "height": 103, "layer": [
        {"transform": [{"filter": "datum.kind == 'fit'"}], "mark": {"type": "line", "color": "#4C72B0", "strokeWidth": 1.5, "clip": true},
         "encoding": {"x": {"field": "ews", "type": "quantitative", "scale": {"domain": [-1.8, 26.7], "nice": false, "zero": false}, "axis": {"values": [0, 10, 20], "title": "EWS", "labelPadding": 3, "titlePadding": 8}},
                      "y": {"field": "pct", "type": "quantitative", "scale": {"domain": [0, 1.2], "nice": false, "zero": false}, "axis": {"tickCount": 7, "format": ".1f", "title": "Override Percentage", "labelOverlap": false}}}},
        {"transform": [{"filter": "datum.kind == 'pt'"}], "mark": {"type": "circle", "color": "#4C72B0", "size": 22, "opacity": 0.9, "clip": true},
         "encoding": {"x": {"field": "ews", "type": "quantitative"}, "y": {"field": "pct", "type": "quantitative"}}},
        {"transform": [{"filter": "datum.kind == 'fit'"}], "mark": {"type": "text", "text": "*", "fontSize": 14, "opacity": 0, "baseline": "middle"},
         "encoding": {"x": {"datum": 0, "type": "quantitative"}, "y": {"datum": 1.5, "type": "quantitative"}}}
      ]}
    },
    {
      "transform": [{"filter": {"field": "panel", "oneOf": ["DRUGALLERGY","UAB_ADE2_RCMDMKIDNEY","UAB_RULE111_SULF_UREA_ALT","UAB_RULE22_RAD_NM_WT_LMT","UAB_RULE61_MRI_SAFETY_SCR"]}}],
      "facet": {"field": "panel", "type": "nominal", "sort": ["DRUGALLERGY","UAB_ADE2_RCMDMKIDNEY","UAB_RULE111_SULF_UREA_ALT","UAB_RULE22_RAD_NM_WT_LMT","UAB_RULE61_MRI_SAFETY_SCR"], "header": {"title": null}},
      "columns": 1, "spacing": 52, "bounds": "flush",
      "spec": {"width": 132, "height": 103, "layer": [
        {"transform": [{"filter": "datum.kind == 'fit'"}], "mark": {"type": "line", "color": "#4C72B0", "strokeWidth": 1.5, "clip": true},
         "encoding": {"x": {"field": "ews", "type": "quantitative", "scale": {"domain": [-1.8, 26.7], "nice": false, "zero": false}, "axis": {"values": [0, 10, 20], "title": "EWS", "labelPadding": 3, "titlePadding": 8}},
                      "y": {"field": "pct", "type": "quantitative", "scale": {"domain": [0, 1.2], "nice": false, "zero": false}, "axis": {"tickCount": 7, "labels": false, "title": null}}}},
        {"transform": [{"filter": "datum.kind == 'pt'"}], "mark": {"type": "circle", "color": "#4C72B0", "size": 22, "opacity": 0.9, "clip": true},
         "encoding": {"x": {"field": "ews", "type": "quantitative"}, "y": {"field": "pct", "type": "quantitative"}}},
        {"transform": [{"filter": "datum.kind == 'fit'"}], "mark": {"type": "text", "text": "*", "fontSize": 14, "opacity": 0, "baseline": "middle"},
         "encoding": {"x": {"datum": 0, "type": "quantitative"}, "y": {"datum": 1.5, "type": "quantitative"}}}
      ]}
    },
    {
      "transform": [{"filter": {"field": "panel", "oneOf": ["DRUGDRUG","UAB_ADE6_DIGOXINLAB","UAB_RULE158_ED_FLOOR_ADM","UAB_RULE268_HALOPERDL65YO","UAB_RULE62_MEPERIDINECRCL"]}}],
      "facet": {"field": "panel", "type": "nominal", "sort": ["DRUGDRUG","UAB_ADE6_DIGOXINLAB","UAB_RULE158_ED_FLOOR_ADM","UAB_RULE268_HALOPERDL65YO","UAB_RULE62_MEPERIDINECRCL"], "header": {"title": null}},
      "columns": 1, "spacing": 52, "bounds": "flush",
      "spec": {"width": 132, "height": 103, "layer": [
        {"transform": [{"filter": "datum.kind == 'fit'"}], "mark": {"type": "line", "color": "#4C72B0", "strokeWidth": 1.5, "clip": true},
         "encoding": {"x": {"field": "ews", "type": "quantitative", "scale": {"domain": [-1.8, 26.7], "nice": false, "zero": false}, "axis": {"values": [0, 10, 20], "title": "EWS", "labelPadding": 3, "titlePadding": 8}},
                      "y": {"field": "pct", "type": "quantitative", "scale": {"domain": [0, 1.2], "nice": false, "zero": false}, "axis": {"tickCount": 7, "labels": false, "title": null}}}},
        {"transform": [{"filter": "datum.kind == 'pt'"}], "mark": {"type": "circle", "color": "#4C72B0", "size": 22, "opacity": 0.9, "clip": true},
         "encoding": {"x": {"field": "ews", "type": "quantitative"}, "y": {"field": "pct", "type": "quantitative"}}},
        {"transform": [{"filter": "datum.kind == 'fit'"}], "mark": {"type": "text", "text": "*", "fontSize": 14, "opacity": 0, "baseline": "middle"},
         "encoding": {"x": {"datum": 0, "type": "quantitative"}, "y": {"datum": 1.5, "type": "quantitative"}}},
        {"transform": [{"filter": "datum.kind == 'star'"}], "mark": {"type": "text", "text": "*", "color": "red", "fontSize": 14, "baseline": "middle", "align": "center"},
         "encoding": {"x": {"datum": 20, "type": "quantitative"}, "y": {"datum": 1.475, "type": "quantitative"}}}
      ]}
    },
    {
      "transform": [{"filter": {"field": "panel", "oneOf": ["DRUGDUP","UAB_ADE8_METFORM_ACIDOSIS","UAB_RULE175_TRANSFUSION","UAB_RULE35_WAR_INF_SIGN","UAB_RULE90_DOPAMINERGIC"]}}],
      "facet": {"field": "panel", "type": "nominal", "sort": ["DRUGDUP","UAB_ADE8_METFORM_ACIDOSIS","UAB_RULE175_TRANSFUSION","UAB_RULE35_WAR_INF_SIGN","UAB_RULE90_DOPAMINERGIC"], "header": {"title": null}},
      "columns": 1, "spacing": 52, "bounds": "flush",
      "spec": {"width": 132, "height": 103, "layer": [
        {"transform": [{"filter": "datum.kind == 'fit'"}], "mark": {"type": "line", "color": "#4C72B0", "strokeWidth": 1.5, "clip": true},
         "encoding": {"x": {"field": "ews", "type": "quantitative", "scale": {"domain": [-1.8, 26.7], "nice": false, "zero": false}, "axis": {"values": [0, 10, 20], "title": "EWS", "labelPadding": 3, "titlePadding": 8}},
                      "y": {"field": "pct", "type": "quantitative", "scale": {"domain": [0, 1.2], "nice": false, "zero": false}, "axis": {"tickCount": 7, "labels": false, "title": null}}}},
        {"transform": [{"filter": "datum.kind == 'pt'"}], "mark": {"type": "circle", "color": "#4C72B0", "size": 22, "opacity": 0.9, "clip": true},
         "encoding": {"x": {"field": "ews", "type": "quantitative"}, "y": {"field": "pct", "type": "quantitative"}}},
        {"transform": [{"filter": "datum.kind == 'fit'"}], "mark": {"type": "text", "text": "*", "fontSize": 14, "opacity": 0, "baseline": "middle"},
         "encoding": {"x": {"datum": 0, "type": "quantitative"}, "y": {"datum": 1.5, "type": "quantitative"}}},
        {"transform": [{"filter": "datum.kind == 'star'"}], "mark": {"type": "text", "text": "*", "color": "red", "fontSize": 14, "baseline": "middle", "align": "center"},
         "encoding": {"x": {"datum": 20, "type": "quantitative"}, "y": {"datum": 1.475, "type": "quantitative"}}}
      ]}
    },
    {
      "transform": [{"filter": {"field": "panel", "oneOf": ["DRUGFOOD","UAB_ADE9_ANTIHISTELD_V2","UAB_RULE184_CHESTAPALERT","UAB_RULE35_WAR_INR_SCRATC","UAB_RULE90_DOPAMINERGIC_2"]}}],
      "facet": {"field": "panel", "type": "nominal", "sort": ["DRUGFOOD","UAB_ADE9_ANTIHISTELD_V2","UAB_RULE184_CHESTAPALERT","UAB_RULE35_WAR_INR_SCRATC","UAB_RULE90_DOPAMINERGIC_2"], "header": {"title": null}},
      "columns": 1, "spacing": 52, "bounds": "flush",
      "spec": {"width": 132, "height": 103, "layer": [
        {"transform": [{"filter": "datum.kind == 'fit'"}], "mark": {"type": "line", "color": "#4C72B0", "strokeWidth": 1.5, "clip": true},
         "encoding": {"x": {"field": "ews", "type": "quantitative", "scale": {"domain": [-1.8, 26.7], "nice": false, "zero": false}, "axis": {"values": [0, 10, 20], "title": "EWS", "labelPadding": 3, "titlePadding": 8}},
                      "y": {"field": "pct", "type": "quantitative", "scale": {"domain": [0, 1.2], "nice": false, "zero": false}, "axis": {"tickCount": 7, "labels": false, "title": null}}}},
        {"transform": [{"filter": "datum.kind == 'pt'"}], "mark": {"type": "circle", "color": "#4C72B0", "size": 22, "opacity": 0.9, "clip": true},
         "encoding": {"x": {"field": "ews", "type": "quantitative"}, "y": {"field": "pct", "type": "quantitative"}}},
        {"transform": [{"filter": "datum.kind == 'fit'"}], "mark": {"type": "text", "text": "*", "fontSize": 14, "opacity": 0, "baseline": "middle"},
         "encoding": {"x": {"datum": 0, "type": "quantitative"}, "y": {"datum": 1.5, "type": "quantitative"}}},
        {"transform": [{"filter": "datum.kind == 'star2'"}], "mark": {"type": "text", "text": "*", "color": "red", "fontSize": 14, "baseline": "middle", "align": "center"},
         "encoding": {"x": {"datum": 24.7, "type": "quantitative"}, "y": {"datum": 1.428, "type": "quantitative"}}}
      ]}
    }
  ],
  "config": {
    "font": "DejaVu Sans",
    "view": {"fill": "#EAEAF2", "stroke": null},
    "axis": {
      "domain": false,
      "ticks": false,
      "grid": true,
      "gridColor": "#FFFFFF",
      "gridWidth": 1,
      "labelColor": "#262626",
      "labelFontSize": 10,
      "labelPadding": 5,
      "titleColor": "#262626",
      "titleFontSize": 10.7,
      "titleFontWeight": "normal",
      "titlePadding": 8
    },
    "header": {
      "labelFont": "DejaVu Sans",
      "labelFontSize": 10.7,
      "labelColor": "#262626",
      "labelBaseline": "bottom",
      "labelLineHeight": 13,
      "labelPadding": -29,
      "labelExpr": "indexof(datum.value,'UAB_')==0 ? ['UAB_' + split(substring(datum.value,4),'_')[0], substring(datum.value, 4 + length(split(substring(datum.value,4),'_')[0]))] : datum.value"
    }
  }
}
